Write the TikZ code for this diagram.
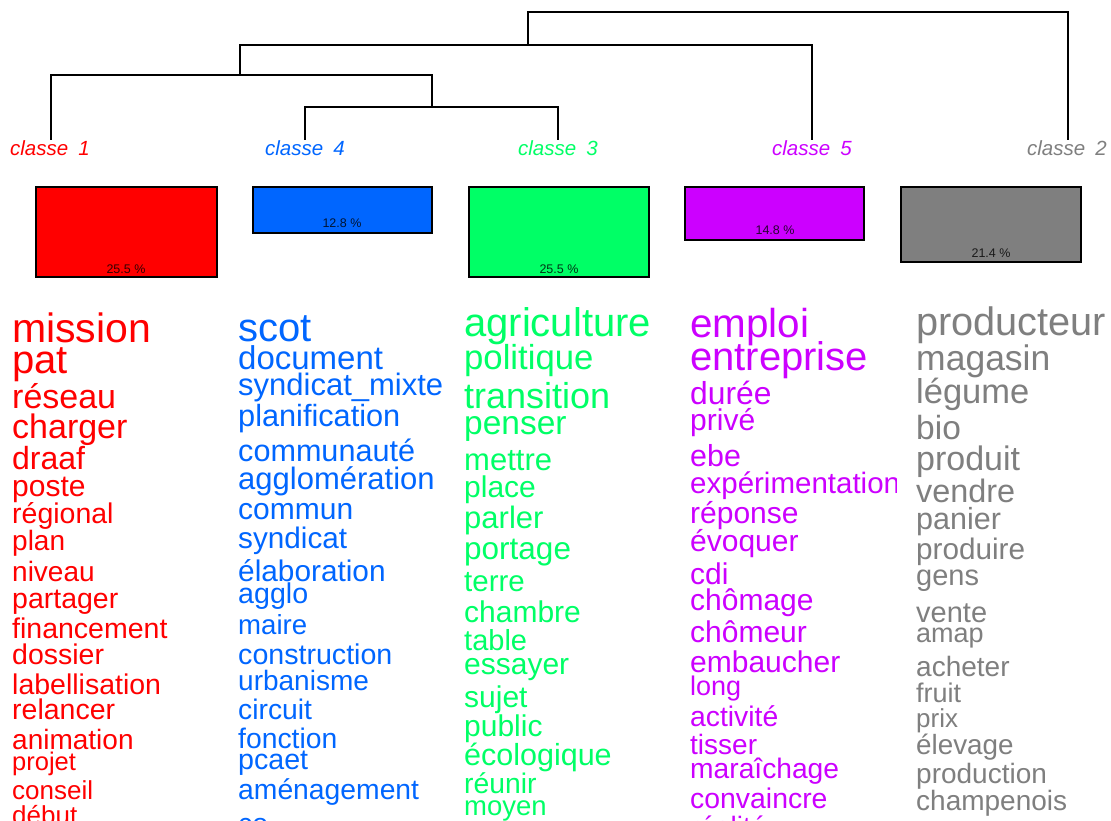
\documentclass[tikz,border=0pt]{standalone}
\usepackage{fontspec}
\setmainfont{Liberation Sans}
\definecolor{cls1}{HTML}{FF0000}
\definecolor{cls2}{HTML}{7F7F7F}
\definecolor{cls3}{HTML}{00FF66}
\definecolor{cls4}{HTML}{0066FF}
\definecolor{cls5}{HTML}{CC00FF}
\tikzset{
  tree/.style={line width=1.3pt, black},
  leaflabel/.style={anchor=base, inner sep=0pt, font=\fontsize{20.5}{20.5}\selectfont\itshape},
  sizebox/.style={draw=black, line width=1.2pt},
  pct/.style={anchor=base, inner sep=0pt, font=\fontsize{12.5}{12.5}\selectfont, text=black, text opacity=0.8},
  word/.style={anchor=base west, inner sep=0pt},
}
% one column of words: prefix, x, colour, list of size/baseline/word
\newcommand\wordcolumn[4]{%
  \foreach \s/\b/\w [count=\i] in {#4} {%
    \node[word, text=#3, font=\fontsize{\s}{\s}\selectfont] (#1-\i) at (#2,\b) {\w};%
  }%
}
\begin{document}
\begin{tikzpicture}[x=1pt, y=-1pt]
\useasboundingbox (0,0) rectangle (1111,821);
\clip (0,0) rectangle (1111,821);
\fill[white] (0,0) rectangle (1111,821);

% dendrogram
\coordinate (L1) at (51,140);
\coordinate (L4) at (305,140);
\coordinate (L3) at (558,140);
\coordinate (L5) at (812,140);
\coordinate (L2) at (1068,140);
\coordinate (k34) at (432,107);
\coordinate (k134) at (240,75);
\coordinate (k1345) at (528,45);
\coordinate (root) at (800,12);
\draw[tree] (L4) |- (k34) -| (L3);
\draw[tree] (L1) |- (k134) -| (k34);
\draw[tree] (k134) |- (k1345) -| (L5);
\draw[tree] (k1345) |- (root) -| (L2);

% class labels
\node[leaflabel, text=cls1] (lab1) at (50,156) {classe\enspace 1};
\node[leaflabel, text=cls4] (lab4) at (305,156) {classe\enspace 4};
\node[leaflabel, text=cls3] (lab3) at (558,156) {classe\enspace 3};
\node[leaflabel, text=cls5] (lab5) at (812,156) {classe\enspace 5};
\node[leaflabel, text=cls2] (lab2) at (1067,156) {classe\enspace 2};

% class sizes
\draw[sizebox, fill=cls1] (36,187) rectangle (217,277);
\draw[sizebox, fill=cls4] (253,187) rectangle (432,233);
\draw[sizebox, fill=cls3] (469,187) rectangle (649,277);
\draw[sizebox, fill=cls5] (685,187) rectangle (864,240);
\draw[sizebox, fill=cls2] (901,187) rectangle (1081,262);
\node[pct] (p1) at (126,273) {25.5 \%};
\node[pct] (p4) at (342,228) {12.8 \%};
\node[pct] (p3) at (559,273) {25.5 \%};
\node[pct] (p5) at (775,234) {14.8 \%};
\node[pct] (p2) at (991,258) {21.4 \%};

% word lists
\wordcolumn{w1}{12}{cls1}{41/342/mission, 40/373/pat, 34/408/réseau, 34/438/charger,
  32/469/draaf, 30/496/poste, 28.5/523/régional, 28/550/plan, 28/581/niveau,
  28.5/608/partager, 28.5/638/financement, 28.5/664/dossier, 28.5/694/labellisation,
  28.5/719/relancer, 28/749/animation, 25.5/770/projet, 26/799/conseil, 26/824/début}

\wordcolumn{w4}{238}{cls4}{40/341/scot, 33/369/document, 31/395/syndicat\_mixte,
  30.7/426/planification, 30.6/461/communauté, 31/489/agglomération, 30/519/commun,
  29.7/548/syndicat, 29.8/581/élaboration, 28.6/603/agglo, 27.6/634/maire,
  28.6/664/construction, 28/690/urbanisme, 28.3/719/circuit, 28.3/748/fonction,
  28.6/769/pcaet, 28.3/799/aménagement, 28.3/833/co}

\wordcolumn{w3}{464}{cls3}{40/336/agriculture, 34.7/369/politique, 36/408/transition,
  33.5/434/penser, 31/470/mettre, 30/497/place, 31/528/parler, 31.5/559/portage,
  29.5/591/terre, 30/622/chambre, 29/650/table, 30/674/essayer, 30/707/sujet,
  30/736/public, 30.5/765/écologique, 28.3/793/réunir, 27.5/815/moyen}

\begin{scope}
\clip (680,290) rectangle (896,821);
\wordcolumn{w5}{690}{cls5}{40.4/337/emploi, 40/370/entreprise, 31.8/404/durée,
  30/430/privé, 30.4/466/ebe, 29.5/493/expérimentation, 30/523/réponse,
  30/551/évoquer, 30/584/cdi, 30/610/chômage, 30/642/chômeur, 30/672/embaucher,
  27/695/long, 28.3/726/activité, 28/754/tisser, 28.2/778/maraîchage,
  28.4/808/convaincre, 28/836/réalité}
\end{scope}

\wordcolumn{w2}{916}{cls2}{39.7/335/producteur, 35.5/370/magasin, 34.5/403/légume,
  33.5/439/bio, 34/470/produit, 32.4/502/vendre, 30.5/529/panier, 29.7/559/produire,
  29/585/gens, 29/622/vente, 27/642/amap, 28/676/acheter, 27/702/fruit, 26/727/prix,
  27.8/754/élevage, 28/783/production, 28/810/champenois}
\end{tikzpicture}
\end{document}
